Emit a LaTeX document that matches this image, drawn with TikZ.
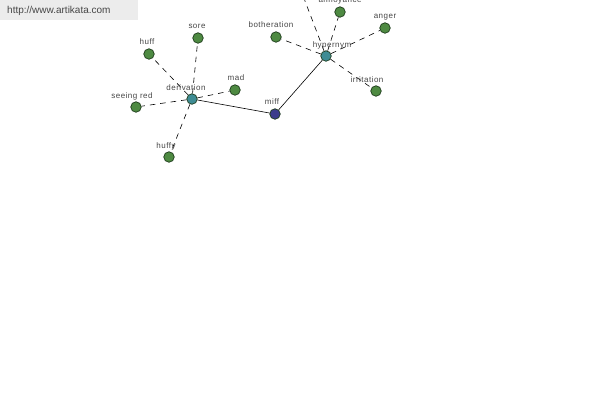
\documentclass[tikz,border=0pt]{standalone}
\usepackage{fontspec}
\setmainfont{Liberation Sans}
\newfontfamily\lblfont[LetterSpace=6]{Liberation Sans}
\definecolor{leaf}{RGB}{78,138,66}
\definecolor{leafdark}{RGB}{28,58,26}
\definecolor{hub}{RGB}{62,140,148}
\definecolor{center}{RGB}{60,60,140}
\definecolor{txt}{RGB}{70,70,70}
\definecolor{banner}{RGB}{236,236,236}
\tikzset{
  dot/.style={circle,draw=leafdark,line width=0.7pt,minimum size=10.5pt,inner sep=0pt,fill=#1},
  lbl/.style={font=\lblfont\fontsize{8}{9}\selectfont,text=txt,inner sep=0pt},
  dashedge/.style={draw=black,line width=0.6pt,dash pattern=on 5.5pt off 5pt},
  solidedge/.style={draw=black,line width=0.6pt}
}
\begin{document}
\begin{tikzpicture}[x=1pt,y=-1pt]
\useasboundingbox (0,0) rectangle (600,400);
\clip (0,0) rectangle (600,400);
\fill[white] (0,0) rectangle (600,400);
\fill[banner] (0,0) rectangle (138,20);
\node[anchor=west,font=\fontsize{10}{12}\selectfont,text=txt,inner sep=0pt] (url) at (7,11) {http://www.artikata.com};
\coordinate (top) at (297,-20);
\node[dot=center] (miff) at (275,114) {};
\node[dot=hub] (deriv) at (192,99) {};
\node[dot=hub] (hyper) at (326,56) {};
\node[dot=leaf] (huff) at (149,54) {};
\node[dot=leaf] (sore) at (198,38) {};
\node[dot=leaf] (mad) at (235,90) {};
\node[dot=leaf] (seeing) at (136,107) {};
\node[dot=leaf] (huffy) at (169,157) {};
\node[dot=leaf] (both) at (276,37) {};
\node[dot=leaf] (annoy) at (340,12) {};
\node[dot=leaf] (anger) at (385,28) {};
\node[dot=leaf] (irrit) at (376,91) {};
\draw[solidedge] (deriv) -- (miff);
\draw[solidedge] (miff) -- (hyper);
\draw[dashedge] (deriv) -- (huff);
\draw[dashedge] (deriv) -- (sore);
\draw[dashedge] (deriv) -- (mad);
\draw[dashedge] (deriv) -- (seeing);
\draw[dashedge] (deriv) -- (huffy);
\draw[dashedge] (hyper) -- (both);
\draw[dashedge] (hyper) -- (annoy);
\draw[dashedge] (hyper) -- (anger);
\draw[dashedge] (hyper) -- (irrit);
\draw[dashedge] (hyper) -- (top);
% labels
\node[lbl] (lmiff) at (272,102) {miff};
\node[lbl] (lderiv) at (186,88) {derivation};
\node[lbl] (lhyper) at (332,45) {hypernym};
\node[lbl] (lhuff) at (147,42) {huff};
\node[lbl] (lsore) at (197,26) {sore};
\node[lbl] (lmad) at (236,78) {mad};
\node[lbl] (lseeing) at (132,96) {seeing red};
\node[lbl] (lhuffy) at (166,146) {huffy};
\node[lbl] (lboth) at (271,25) {botheration};
\node[lbl] (lannoy) at (340,1) {annoyance};
\node[lbl] (langer) at (385,17) {anger};
\node[lbl] (lirrit) at (367,80) {irritation};
\end{tikzpicture}
\end{document}
